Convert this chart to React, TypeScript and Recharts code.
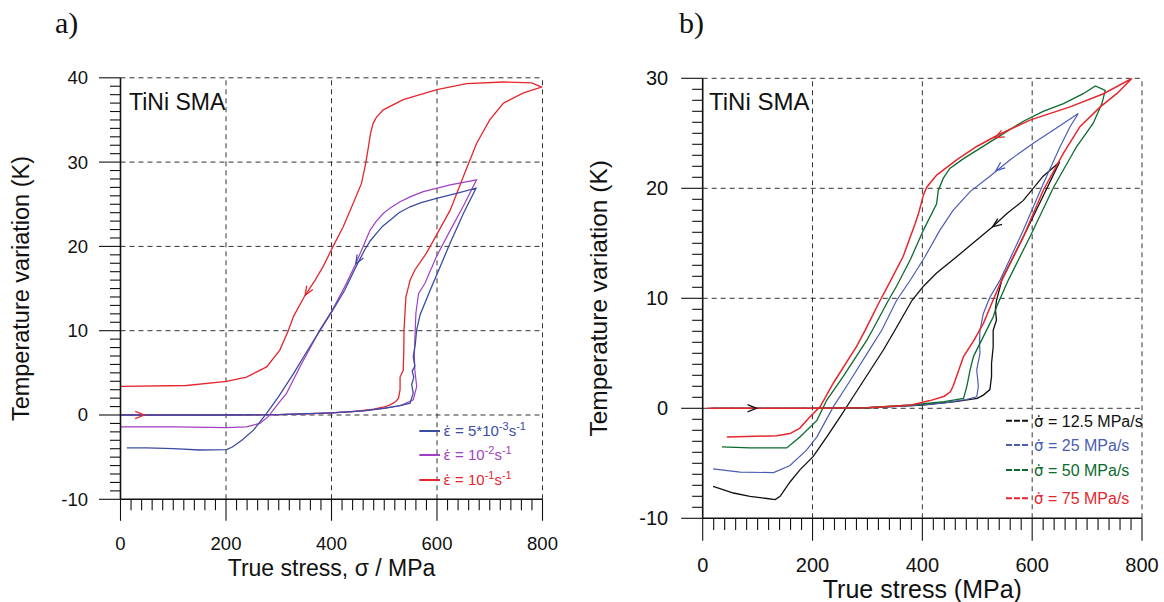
import React from 'react';
import { ComposedChart, Line, Scatter, XAxis, YAxis, ReferenceLine, Label } from 'recharts';

type Pt = [number, number];
// stress, temperature, heading of the arrow on screen (deg)
type Arrow = [number, number, number];

// ---------- a) strain controlled tests
// 5*10^-3 s^-1
const aRateSlow: Pt[] = [
  [0, 0], [100, 0], [200, 0], [300, 0.05], [400, 0.25], [460, 0.5], [500, 0.8], [530, 1.1],
  [549, 1.4], [555, 2.6], [552, 3.6], [556, 4.5], [553, 5.2], [558, 5.8], [555, 6.9], [559, 8.5],
  [561.5, 10.1], [568, 11.9], [587, 14.8], [606, 17.6], [625, 20.4], [650, 23.9], [674, 26.9],
  [637, 26.3], [599, 25.7], [570, 25.2], [549, 24.7], [528, 24.0], [511, 23.1], [497, 22.4],
  [486, 21.6], [474, 20.7], [463, 19.6], [445, 17.4], [425, 14.8], [401, 12.3], [378, 10],
  [353, 7.5], [328, 4.9], [300, 2.2], [277, 0.2], [252, -1.8], [230, -3.0], [212, -3.8],
  [201, -4.1], [150, -4.15], [100, -4.0], [50, -3.9], [12, -3.9],
];
// 10^-2 s^-1
const aRateMid: Pt[] = [
  [0, 0], [100, 0], [200, 0], [300, 0.05], [400, 0.25], [460, 0.5], [500, 0.8], [530, 1.1],
  [555, 1.8], [561.5, 3.4], [558, 5.3], [557, 7], [558, 8.9], [560, 12.1], [565, 14.4], [577, 15.6],
  [599, 18.8], [625, 21.9], [650, 24.8], [675, 27.9], [625, 27.3], [574, 26.5], [550, 25.9],
  [530, 25.3], [512, 24.6], [498, 23.9], [484, 22.9], [473, 21.9], [460, 20.0], [445, 17.8],
  [425, 15.2], [401, 12.4], [378, 10.1], [340, 5.7], [315, 2.6], [302, 1.6], [280, -0.2],
  [264, -1.0], [239, -1.4], [201, -1.5], [100, -1.4], [0, -1.4],
];
// 10^-1 s^-1
const aRateFast: Pt[] = [
  [0, 0], [100, 0], [200, 0], [300, 0.05], [380, 0.2], [440, 0.4], [480, 0.7], [500, 0.95],
  [511, 1.2], [522, 1.6], [527, 2.0], [530, 3.0], [530, 4.5], [536, 5.3], [537, 7.5], [537.5, 10.1],
  [541, 14], [549, 16], [558, 17.2], [580, 19.2], [602, 21.7], [625, 24.3], [650, 28.3], [675, 32.2],
  [700, 35], [726, 37], [764, 38.2], [798, 38.9], [780, 39.4], [726, 39.5], [656, 39.3], [600, 38.6],
  [536, 37.4], [498, 36.2], [485, 35.3], [479, 34.6], [474, 33.4], [470, 31.8], [465, 29.9],
  [457, 27.5], [441, 25.1], [422, 22.3], [403, 20], [384, 17.6], [369, 16], [350, 14.2], [328, 11.7],
  [318, 10], [302, 7.7], [277, 5.7], [239, 4.5], [201, 4.0], [125, 3.5], [0, 3.4],
];
const aArrowsFast: Arrow[] = [[45, 0, 0], [350, 14.2, 121]];
const aArrowsSlow: Arrow[] = [[446, 17.9, 120]];

// ---------- b) stress controlled tests
const b12: Pt[] = [
  [15, 0], [100, 0], [200, 0], [300, 0.05], [400, 0.3], [460, 0.6], [500, 0.9], [511, 1.2],
  [523, 1.7], [526, 2.9], [526, 4.1], [529, 5.6], [529, 7.1], [535, 8.0], [533, 9.0], [535, 9.8],
  [545, 11.7], [584, 15.6], [620, 19.3], [650, 22.4], [620, 21.1], [584, 18.9], [554, 17.7],
  [528, 16.5], [499, 15.3], [463, 13.8], [426, 12.3], [402, 11.1], [381, 9.8], [350, 7.1],
  [329, 5.3], [274, 1.05], [250, -0.8], [226, -2.6], [201, -4.4], [177, -5.6], [159, -6.7],
  [141, -8.0], [132, -8.3], [117, -8.2], [86, -8.0], [56, -7.7], [19, -7.1],
];
const b25: Pt[] = [
  [10, 0], [100, 0], [200, 0], [300, 0.05], [380, 0.25], [440, 0.5], [480, 0.8], [499, 1.05],
  [502, 2.0], [499, 3.5], [505, 5.0], [504, 6], [505, 7.1], [511, 8.6], [523, 10.1], [542, 11.7],
  [584, 16.2], [620, 20.4], [651, 23.8], [669, 25.6], [684, 26.8], [645, 25.5], [602, 24.1],
  [560, 22.6], [523, 21.1], [487, 19.7], [456, 18.0], [432, 16.2], [405, 13.8], [380, 11.8],
  [353, 9.8], [326, 7.1], [311, 5.9], [262, 2.0], [238, 0.15], [208, -2.6], [189, -3.8],
  [159, -5.2], [129, -5.85], [68, -5.8], [19, -5.5],
];
const b50: Pt[] = [
  [20, 0], [100, 0], [200, 0], [300, 0.05], [380, 0.3], [440, 0.6], [475, 0.9], [481, 2.0],
  [487, 3.5], [493, 4.7], [505, 5.9], [520, 7.4], [529, 8.3], [535, 9.2], [557, 11.7], [596, 15.6],
  [639, 20.1], [681, 23.8], [711, 25.9], [727, 27.7], [733, 28.9], [715, 29.3], [693, 28.6],
  [657, 27.7], [620, 27.0], [584, 26.1], [523, 24.2], [475, 22.7], [450, 21.8], [438, 20.9],
  [429, 19.8], [426, 18.6], [402, 16.2], [378, 13.5], [353, 11.1], [338, 9.8], [309, 7.1],
  [299, 6.2], [256, 2.9], [226, 0.75], [208, -1.1], [177, -2.6], [153, -3.6], [86, -3.6], [35, -3.5],
];
const b75: Pt[] = [
  [8, 0], [100, 0], [200, 0], [300, 0.05], [380, 0.3], [414, 0.7], [440, 1.1], [451, 1.5],
  [456, 2.0], [475, 4.7], [493, 6.1], [511, 7.7], [526, 9.5], [545, 11.7], [584, 15.6], [620, 19.8],
  [657, 23.2], [687, 25.6], [724, 27.4], [754, 28.6], [778, 29.8], [782, 30], [730, 28.6],
  [669, 27.4], [596, 26.2], [536, 24.8], [499, 23.8], [463, 22.6], [426, 21.2], [408, 20.1],
  [402, 19.4], [393, 17.7], [387, 16.8], [365, 13.8], [337, 11.1], [323, 9.8], [296, 7.1],
  [280, 5.6], [238, 2.3], [214, 0.15], [195, -0.8], [177, -1.8], [159, -2.3], [135, -2.5], [44, -2.6],
];
const bArrows12: Arrow[] = [[98, 0, 0], [528, 16.5, 144]];
const bArrows25: Arrow[] = [[534, 21.6, 141]];
const bArrows75: Arrow[] = [[532.5, 24.6, 153]];

// ---------- axes
const stressTicks = [0, 200, 400, 600, 800];
const stressGrid = [200, 400, 600, 800];
const aTempTicks = [-10, 0, 10, 20, 30, 40];
const aTempGrid = [0, 10, 20, 30, 40];
const bTempTicks = [-10, 0, 10, 20, 30];
const bTempGrid = [0, 10, 20, 30];

const aLegendBase = ['5*10', '10', '10'];
const aLegendExp = ['-3', '-2', '-1'];
const bLegendText = ['12.5 MPa/s', '25 MPa/s', '50 MPa/s', '75 MPa/s'];

const FONT = '"Liberation Sans", Arial, Helvetica, sans-serif';
const SYMBOL_FONT = '"DejaVu Sans", "Liberation Sans", sans-serif';
const SERIF = '"Liberation Serif", "Times New Roman", serif';
const INK = '#111';
const A_BLUE = '#3b4ca3';
const A_PURPLE = '#a23fc2';
const RED = '#e6262d';
const B_BLUE = '#4b5db4';
const GREEN = '#0b6b2e';

const steps = (from: number, to: number, step: number) => {
  const out: number[] = [];
  for (let v = from; v <= to + 1e-9; v += step) out.push(Math.round(v * 10) / 10);
  return out;
};
const toRows = (pts: Pt[]) => pts.map(([x, y]) => ({ x, y }));
const toArrows = (arr: Arrow[]) => arr.map(([x, y, angle]) => ({ x, y, angle }));

const arrowShape = (color: string) => (props: any) => {
  const { cx, cy, payload } = props;
  if (cx == null || cy == null) return <g />;
  return (
    <path
      d="M -9 -3.6 L 0 0 L -9 3.6"
      transform={`translate(${cx},${cy}) rotate(${payload.angle})`}
      fill="none"
      stroke={color}
      strokeWidth={1.3}
    />
  );
};

interface SeriesDef {
  key: string;
  data: Pt[];
  color: string;
  width: number;
  arrows?: Arrow[];
}

interface PanelProps {
  width: number;
  margin: { top: number; right: number; bottom: number; left: number };
  yDomain: [number, number];
  yTicks: number[];
  yGrid: number[];
  series: SeriesDef[];
  tickFont: number;
  xMajorLen: number;
  xMinorLen: number;
  xLabelBase: number;
  yLabelGap: number;
  xTitle: string;
  xTitleFont: number;
  xTitleBase: number;
  yTitleFont: number;
  yTitleOffset: number;
}

const HEIGHT = 602;
const AXIS = 40;

const Panel: React.FC<PanelProps> = (p) => {
  const axisX = p.margin.left + AXIS;
  const axisY = HEIGHT - p.margin.bottom - AXIS;

  const xTick = (t: any) => {
    const v = t.payload.value;
    const major = stressTicks.includes(v);
    return (
      <g>
        <line x1={t.x} x2={t.x} y1={axisY} y2={axisY + (major ? p.xMajorLen : p.xMinorLen)} stroke={INK} strokeWidth={1.1} />
        {major && (
          <text x={t.x} y={axisY + p.xLabelBase} textAnchor="middle" fontSize={p.tickFont} fontFamily={FONT} fill={INK}>
            {v}
          </text>
        )}
      </g>
    );
  };

  const yTick = (t: any) => {
    const v = t.payload.value;
    const major = p.yTicks.includes(v);
    return (
      <g>
        <line x1={axisX} x2={axisX - (major ? 21.5 : 10.5)} y1={t.y} y2={t.y} stroke={INK} strokeWidth={1.1} />
        {major && (
          <text x={axisX - p.yLabelGap} y={t.y} dy="0.35em" textAnchor="end" fontSize={p.tickFont} fontFamily={FONT} fill={INK}>
            {v}
          </text>
        )}
      </g>
    );
  };

  return (
    <ComposedChart width={p.width} height={HEIGHT} margin={p.margin}>
      <XAxis
        type="number"
        dataKey="x"
        domain={[0, 800]}
        ticks={steps(0, 800, 20)}
        interval={0}
        allowDataOverflow
        height={AXIS}
        tickLine={false}
        tickSize={0}
        tickMargin={0}
        tick={xTick}
        axisLine={{ stroke: INK, strokeWidth: 1.6 }}
      >
        <Label
          content={(lp: any) => {
            const vb = lp.viewBox;
            return (
              <text x={vb.x + vb.width / 2} y={axisY + p.xTitleBase} textAnchor="middle" fontSize={p.xTitleFont} fontFamily={FONT} fill={INK}>
                {p.xTitle}
              </text>
            );
          }}
        />
      </XAxis>
      <YAxis
        type="number"
        dataKey="y"
        domain={p.yDomain}
        ticks={steps(p.yDomain[0], p.yDomain[1], 1)}
        interval={0}
        allowDataOverflow
        width={AXIS}
        tickLine={false}
        tickSize={0}
        tickMargin={0}
        tick={yTick}
        axisLine={{ stroke: INK, strokeWidth: 1.6 }}
      >
        <Label
          content={(lp: any) => {
            const vb = lp.viewBox;
            const cx = axisX - p.yTitleOffset;
            const cy = vb.y + vb.height / 2;
            return (
              <text x={cx} y={cy} transform={`rotate(-90 ${cx} ${cy})`} textAnchor="middle" dominantBaseline="central" fontSize={p.yTitleFont} fontFamily={FONT} fill={INK}>
                Temperature variation (K)
              </text>
            );
          }}
        />
      </YAxis>
      {stressGrid.map((v) => (
        <ReferenceLine key={'gx' + v} x={v} stroke="#333" strokeDasharray="5 4" strokeWidth={1} />
      ))}
      {p.yGrid.map((v) => (
        <ReferenceLine key={'gy' + v} y={v} stroke="#333" strokeDasharray="5 4" strokeWidth={1} />
      ))}
      {p.series.map((s) => (
        <Line
          key={s.key}
          data={toRows(s.data)}
          dataKey="y"
          type="linear"
          stroke={s.color}
          strokeWidth={s.width}
          dot={false}
          activeDot={false}
          isAnimationActive={false}
        />
      ))}
      {p.series
        .filter((s) => s.arrows)
        .map((s) => (
          <Scatter
            key={s.key + '-arrows'}
            data={toArrows(s.arrows as Arrow[])}
            dataKey="y"
            shape={arrowShape(s.color)}
            isAnimationActive={false}
          />
        ))}
    </ComposedChart>
  );
};

const aSeries: SeriesDef[] = [
  { key: 'a1', data: aRateFast, color: RED, width: 1.3, arrows: aArrowsFast },
  { key: 'a2', data: aRateMid, color: A_PURPLE, width: 1.2 },
  { key: 'a3', data: aRateSlow, color: A_BLUE, width: 1.3, arrows: aArrowsSlow },
];

const bSeries: SeriesDef[] = [
  { key: 'b12', data: b12, color: INK, width: 1.3, arrows: bArrows12 },
  { key: 'b25', data: b25, color: B_BLUE, width: 1.2, arrows: bArrows25 },
  { key: 'b50', data: b50, color: GREEN, width: 1.3 },
  { key: 'b75', data: b75, color: RED, width: 1.5, arrows: bArrows75 },
];

const aLegendColors = [A_BLUE, A_PURPLE, RED];
const aLegendY = [431, 455, 480];
const bLegendColors = [INK, B_BLUE, GREEN, RED];
const bLegendY = [420.7, 445, 470, 498.3];

const App: React.FC = () => (
  <div style={{ position: 'absolute', left: 0, top: 0, width: 1164, height: 602, background: '#fff', fontFamily: FONT }}>
    <div style={{ position: 'absolute', left: 0, top: 0 }}>
      <Panel
        width={580}
        margin={{ top: 77.8, right: 37.5, bottom: 62.7, left: 80.5 }}
        yDomain={[-10, 40]}
        yTicks={aTempTicks}
        yGrid={aTempGrid}
        series={aSeries}
        tickFont={18.5}
        xMajorLen={21.5}
        xMinorLen={11}
        xLabelBase={50.7}
        yLabelGap={32.5}
        xTitle="True stress, σ / MPa"
        xTitleFont={23}
        xTitleBase={76.7}
        yTitleFont={23.5}
        yTitleOffset={99.2}
      />
    </div>
    <div style={{ position: 'absolute', left: 580, top: 0 }}>
      <Panel
        width={584}
        margin={{ top: 78.3, right: 22, bottom: 43.7, left: 82.7 }}
        yDomain={[-10, 30]}
        yTicks={bTempTicks}
        yGrid={bTempGrid}
        series={bSeries}
        tickFont={20}
        xMajorLen={22.4}
        xMinorLen={11.7}
        xLabelBase={53.4}
        yLabelGap={34.5}
        xTitle="True stress (MPa)"
        xTitleFont={25}
        xTitleBase={80}
        yTitleFont={24.5}
        yTitleOffset={104.2}
      />
    </div>
    <svg width={1164} height={602} style={{ position: 'absolute', left: 0, top: 0, pointerEvents: 'none' }}>
      <text x={55} y={33} fontSize={30} fontFamily={SERIF} fill={INK}>a)</text>
      <text x={679} y={33} fontSize={30} fontFamily={SERIF} fill={INK}>b)</text>
      <text x={129} y={110} fontSize={23} fontFamily={FONT} fill={INK}>TiNi SMA</text>
      <text x={709} y={110} fontSize={24} fontFamily={FONT} fill={INK}>TiNi SMA</text>
      {aLegendBase.map((base, i) => (
        <g key={'la' + i}>
          <line x1={419.3} x2={440} y1={aLegendY[i]} y2={aLegendY[i]} stroke={aLegendColors[i]} strokeWidth={2} />
          <text x={443.3} y={aLegendY[i] + 5.4} fontSize={15} fontFamily={FONT} fill={aLegendColors[i]}>
            <tspan fontFamily={SYMBOL_FONT} fontSize={14}>{'\u03B5\u0307'}</tspan>
            {' = ' + base}
            <tspan fontSize={11} dy={-6.5}>{aLegendExp[i]}</tspan>
            <tspan fontSize={15} dy={6.5}>s</tspan>
            <tspan fontSize={11} dy={-6.5}>-1</tspan>
          </text>
        </g>
      ))}
      {bLegendText.map((label, i) => (
        <g key={'lb' + i}>
          <line x1={1006} x2={1030} y1={bLegendY[i]} y2={bLegendY[i]} stroke={bLegendColors[i]} strokeWidth={2} strokeDasharray="6 2" />
          <text x={1034} y={bLegendY[i] + 5.8} fontSize={16} fontFamily={FONT} fill={bLegendColors[i]}>
            <tspan fontFamily={SYMBOL_FONT} fontSize={15}>{'\u03C3\u0307'}</tspan>
            {' = ' + label}
          </text>
        </g>
      ))}
    </svg>
  </div>
);

export default App;
